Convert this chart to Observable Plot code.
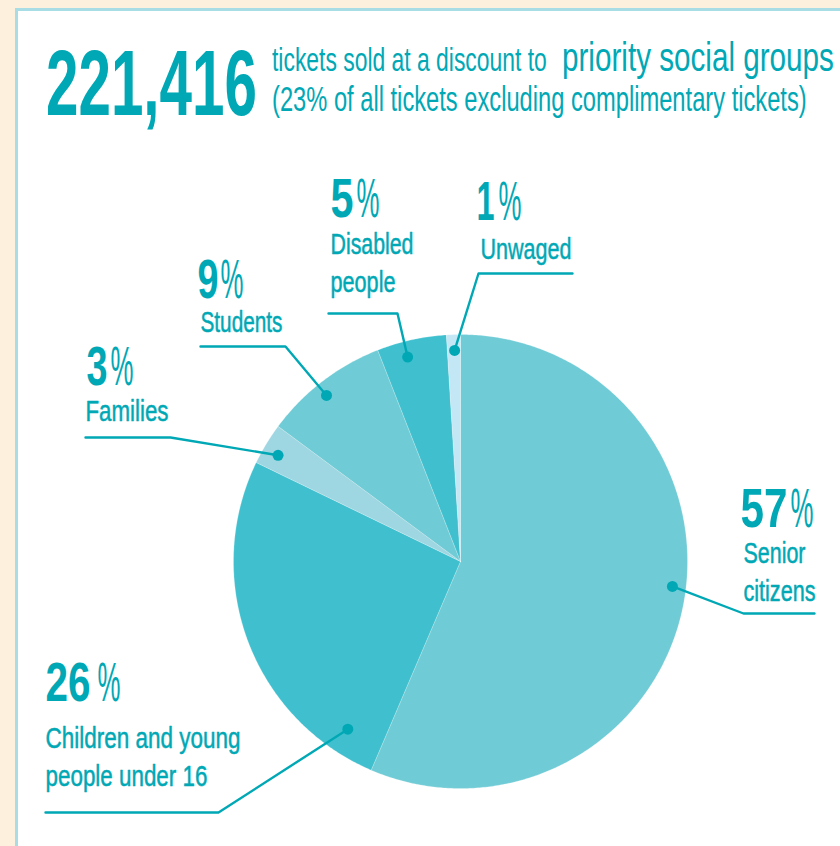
<!DOCTYPE html>
<html>
<head>
<meta charset="utf-8">
<script src="https://cdn.jsdelivr.net/npm/d3@7"></script>
<script src="https://cdn.jsdelivr.net/npm/@observablehq/plot@0.6"></script>
<style>
  html, body { margin: 0; padding: 0; background: #FDF0DC; }
  #page { position: relative; width: 840px; height: 846px; overflow: hidden; background: #FDF0DC; }
  #panel { position: absolute; left: 15px; top: 8px; width: 900px; height: 900px; border: 3px solid #A9DDE6; background: #fff; box-sizing: border-box; }
  #hdr { position: absolute; left: 0; top: 0; }
  #chart { position: absolute; left: 0; top: 140px; }
</style>
</head>
<body>
<div id="page">
  <div id="panel"></div>
  <svg id="hdr" width="840" height="140"></svg>
  <div id="chart"></div>
</div>
<script>
// ---------- data ----------
const headline = "221,416";
const subtitleSmall = "tickets sold at a discount to";
const subtitleLarge = "priority social groups";
const subtitleLine2 = "(23% of all tickets excluding complimentary tickets)";

const groups = ["Senior citizens", "Children and young people under 16", "Families", "Students", "Disabled people", "Unwaged"];
const shares = [57, 26, 3, 9, 5, 1];
const nameLines = [["Senior", "citizens"], ["Children and young", "people under 16"], ["Families"], ["Students"], ["Disabled", "people"], ["Unwaged"]];

// ---------- style / layout ----------
const INK = "#00A8B5";
const FONT = "'Liberation Sans', Arial, sans-serif";
const sliceFills = ["#6FCBD5", "#40C0CE", "#9ED6E2", "#6FCBD5", "#40C0CE", "#C3E7F4"];
const PIE = { cx: 460, cy: 561, r: 227 };
const TOP = 140, W = 840, H = 846;
const labelLayout = [
  { x: 740, nameX: 743, numW: 47, signX: 790, pctY: 526, nameY: 562, nameW: [62, 72], dotA: 96.7, dotR: 0.94, elbowX: 743, lineY: 613, endX: 814 },
  { x: 45, nameX: 45, numW: 45, signX: 97, pctY: 700, nameY: 747, nameW: [195, 162], dotA: 213.9, dotR: 0.89, elbowX: 218, lineY: 812, endX: 45 },
  { x: 86, nameX: 85, numW: 21, signX: 110, pctY: 384, nameY: 420, nameW: [83], dotA: 300.2, dotR: 0.93, elbowX: 170, lineY: 437, endX: 85 },
  { x: 197, nameX: 200, numW: 21, signX: 220, pctY: 297, nameY: 331, nameW: [82], dotA: 321.1, dotR: 0.94, elbowX: 285, lineY: 346, endX: 200 },
  { x: 330, nameX: 330, numW: 23, signX: 356, pctY: 216, nameY: 253, nameW: [83, 65], dotA: 345.5, dotR: 0.93, elbowX: 397, lineY: 313, endX: 328 },
  { x: 476, nameX: 480, numW: 18, signX: 498, pctY: 219, nameY: 258, nameW: [91], dotA: 358.4, dotR: 0.93, elbowX: 478, lineY: 273, endX: 572 }
];
const PCT_SIZE = 55, SIGN_W = 23, NAME_SIZE = 29, LINE_GAP = 38;

// ---------- header ----------
const hdr = d3.select("#hdr");
function htext(x, y, len, size, weight, s) {
  const t = hdr.append("text")
    .attr("x", 0).attr("y", 0)
    .attr("font-family", FONT).attr("font-size", size).attr("font-weight", weight)
    .attr("fill", INK).text(s);
  const natural = t.node().getComputedTextLength();
  t.attr("transform", `translate(${x},${y}) scale(${len / natural},1)`);
}
htext(46, 115, 211, 92, "bold", headline);
htext(272, 71, 275, 34, "normal", subtitleSmall);
htext(562, 71, 272, 41, "normal", subtitleLarge);
htext(272, 111, 535, 35, "normal", subtitleLine2);

// ---------- pie geometry from shares ----------
const total = d3.sum(shares);
const polar = (deg, rr) => {
  const t = deg * Math.PI / 180;
  return [PIE.cx + rr * Math.sin(t), PIE.cy - rr * Math.cos(t)];
};
let acc = 0;
const slices = shares.map((v, i) => {
  const a0 = acc / total * 360;
  acc += v;
  const a1 = acc / total * 360;
  const n = Math.max(2, Math.ceil((a1 - a0) / 0.5));
  const pts = [{ x: PIE.cx, y: PIE.cy }];
  for (let k = 0; k <= n; k++) {
    const [x, y] = polar(a0 + (a1 - a0) * k / n, PIE.r);
    pts.push({ x, y });
  }
  pts.push({ x: PIE.cx, y: PIE.cy });
  return { group: groups[i], pts };
});

// ---------- annotations ----------
const dots = labelLayout.map((L, i) => {
  const [x, y] = polar(L.dotA, L.dotR * PIE.r);
  return { group: groups[i], x, y };
});
const leaders = labelLayout.flatMap((L, i) => [
  { group: groups[i], x: dots[i].x, y: dots[i].y },
  { group: groups[i], x: L.elbowX, y: L.lineY },
  { group: groups[i], x: L.endX, y: L.lineY }
]);
const pctNums = labelLayout.map((L, i) => ({ x: L.x, y: L.pctY, text: String(shares[i]), w: L.numW }));
const pctSigns = labelLayout.map((L, i) => ({ x: L.signX, y: L.pctY, text: "%", w: SIGN_W }));
const names = labelLayout.flatMap((L, i) => nameLines[i].map((s, j) => ({ x: L.nameX, y: L.nameY + j * LINE_GAP, text: s, w: L.nameW[j] })));

const chart = Plot.plot({
  width: W,
  height: H - TOP,
  margin: 0,
  x: { type: "linear", domain: [0, W], range: [0, W], axis: null },
  y: { type: "linear", domain: [TOP, H], range: [0, H - TOP], axis: null },
  style: { background: "transparent", fontFamily: FONT, overflow: "visible" },
  marks: [
    ...slices.map((s, i) => Plot.line(s.pts, { x: "x", y: "y", fill: sliceFills[i], stroke: "#ffffff", strokeWidth: 0.6, strokeOpacity: 0.35, curve: "linear-closed" })),
    Plot.line(leaders, { x: "x", y: "y", z: "group", stroke: INK, strokeWidth: 2.4 }),
    Plot.dot(dots, { x: "x", y: "y", r: 5.5, fill: INK }),
    Plot.text(pctNums, { x: "x", y: "y", text: "text", textAnchor: "start", lineAnchor: "bottom", fontSize: PCT_SIZE, fontWeight: "bold", fill: INK, fontFamily: FONT }),
    Plot.text(pctSigns, { x: "x", y: "y", text: "text", textAnchor: "start", lineAnchor: "bottom", fontSize: PCT_SIZE, fontWeight: "normal", fill: INK, fontFamily: FONT }),
    Plot.text(names, { x: "x", y: "y", text: "text", textAnchor: "start", lineAnchor: "bottom", fontSize: NAME_SIZE, fill: INK, stroke: INK, strokeWidth: 0.5, fontFamily: FONT })
  ]
});
document.getElementById("chart").appendChild(chart);

// condense each label horizontally to the width it has in the reference
const widthByText = new Map([...pctNums, ...pctSigns, ...names].map(d => [d.text, d.w]));
chart.querySelectorAll("text").forEach(t => {
  const w = widthByText.get(t.textContent);
  if (!w) return;
  const natural = t.getComputedTextLength();
  const base = t.getAttribute("transform") || "";
  const x = +(t.getAttribute("x") || 0);
  t.setAttribute("transform", `${base} translate(${x},0) scale(${w / natural},1) translate(${-x},0)`);
});
</script>
</body>
</html>
